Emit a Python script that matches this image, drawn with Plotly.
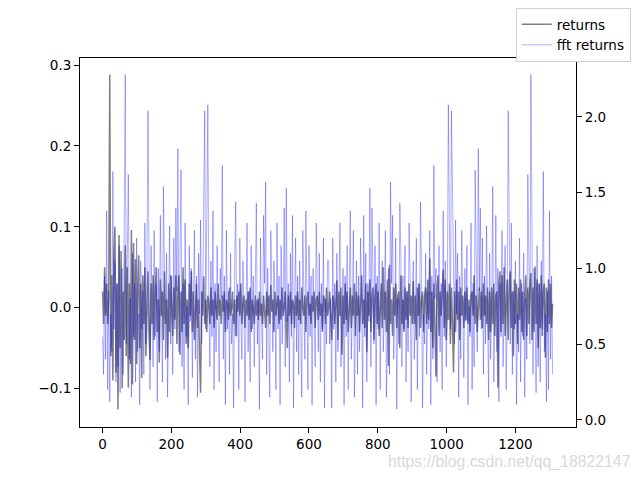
import plotly.graph_objects as go

# daily returns (left axis), one value every 3 samples
returns = [
    0.02, -0.02, 0.05, -0.01, 0.03, -0.02, 0.01,
    0.288,
    -0.06, 0.04, -0.09, 0.06, 0.10, -0.08, 0.03, -0.126, 0.09, -0.05,
    0.07, -0.10, 0.02, -0.04, 0.077, -0.06, 0.05, -0.099, 0.03, -0.07,
    0.096, -0.095, 0.08,
    -0.04, 0.06, -0.07, 0.02, 0.065, -0.05, 0.03, -0.087, 0.04, -0.02,
    0.05, -0.06, 0.01, 0.045, -0.03, -0.065,
    0.03, -0.02, 0.04, -0.04, 0.02, 0.05, -0.03, 0.01, -0.068, 0.035,
    -0.01, 0.02, -0.04, 0.045, -0.02, 0.01, -0.062, 0.03, -0.03, 0.04,
    0.00, -0.035, 0.025, -0.015, 0.04, -0.045, 0.02,
    0.04, -0.058, 0.02, -0.03, 0.05, -0.02, 0.035, -0.045, 0.01, -0.05,
    0.03, -0.01, 0.045, -0.03, 0.02, -0.04, 0.015, 0.03, -0.025, 0.01,
    -0.06,
    -0.105,
    0.02, -0.01, 0.039, -0.02, 0.01, -0.03, 0.015, 0.005, -0.02, 0.025,
    -0.01, 0.01, -0.025, 0.02, 0.00, -0.015, 0.03, -0.01, 0.01, -0.02,
    0.015, -0.005, 0.02, -0.03, 0.01, 0.005, -0.015, 0.025, -0.01, 0.00,
    0.02, -0.02, 0.01, -0.035, 0.015, -0.005, 0.02, -0.01, 0.03, -0.02,
    0.005, 0.015, -0.025, 0.01, -0.01, 0.02, -0.015, 0.025, -0.03, 0.01,
    0.00, -0.02, 0.015, -0.01,
    0.01, -0.015, 0.02, -0.01, 0.005, -0.02, 0.015, 0.00, -0.025, 0.02,
    -0.01, 0.015, -0.02, 0.028, -0.005, 0.01, -0.03, 0.02, -0.01, 0.005,
    0.015, -0.02, 0.01, -0.015, 0.025, -0.01, 0.00, 0.02, -0.03, -0.05,
    0.015, -0.01, 0.02, -0.02, 0.01, 0.005, -0.025, 0.015, -0.01, 0.02,
    -0.015, 0.01, -0.02, 0.025, 0.00, -0.01, 0.015, -0.03, 0.01, 0.02,
    -0.01, 0.005, -0.02, 0.015, -0.005, 0.02, -0.025, 0.01, 0.015, -0.015,
    0.02, -0.01, 0.005, -0.03, 0.015, 0.01, -0.02, 0.025, -0.01, 0.00,
    0.02, -0.025, -0.04, 0.015, 0.01, -0.02,
    0.01, 0.034, -0.04, 0.02, -0.01, 0.025, -0.058, 0.015, -0.02, 0.03,
    -0.015, 0.02, -0.03, 0.01, 0.025, -0.025, 0.015, -0.01, 0.03, -0.035,
    0.02, -0.01, 0.015, -0.03, 0.025, 0.04, -0.02, 0.01, -0.025, 0.03,
    -0.055, 0.02, -0.01, 0.035, -0.03, 0.015, 0.025, -0.04, 0.01, 0.03,
    -0.02, 0.02, -0.035, 0.015, 0.03, -0.025, 0.05, -0.015, 0.02, -0.03,
    0.035, -0.072, 0.053, -0.02, 0.01, -0.035, 0.025, -0.01, 0.03, -0.025,
    0.015, 0.02, -0.05, 0.04, -0.02, 0.01, -0.03, 0.025, -0.015, 0.02,
    -0.025, 0.03, -0.01, 0.015, -0.02,
    0.033, -0.02, 0.015, -0.04, 0.025, -0.01, 0.03, -0.025, 0.01, 0.02,
    -0.03, 0.015, 0.025, -0.02, 0.035, -0.015, 0.061, -0.03, 0.02, -0.05,
    0.03, -0.02, -0.085, 0.025, 0.04, -0.035, 0.02, -0.01, 0.03, 0.047,
    -0.025, 0.035, -0.04, 0.02, -0.015, 0.03, -0.045, 0.025, -0.02, -0.08,
    0.02, -0.03, 0.035, -0.015, 0.02, -0.04, 0.025, -0.01, 0.015, -0.025,
    0.02, -0.015, 0.025, -0.02, 0.01, -0.03, 0.015, 0.02, -0.01, 0.04,
    -0.02, 0.015, -0.03, 0.01, 0.025, -0.015, 0.02, -0.025, 0.03, -0.01,
    0.015, -0.02, 0.025, -0.04, 0.02,
    -0.03, 0.025, -0.02, 0.03, -0.035, 0.015, 0.02, -0.099, 0.03, 0.045,
    -0.03, 0.04, -0.02, 0.05, -0.035, 0.02, 0.035, -0.04, 0.03, 0.045,
    -0.025, 0.02, -0.06, 0.035, -0.02, 0.03, -0.045, 0.025, -0.015, 0.035,
    -0.03, 0.02, -0.04, 0.015, 0.04, -0.035, 0.025, -0.02, 0.03, 0.043,
    -0.04, 0.025, -0.03, 0.051, -0.02, 0.035, -0.05, 0.03, -0.025, 0.04,
    -0.035, 0.02, 0.03, -0.062, 0.025, -0.03, 0.035, -0.02, 0.03, -0.025,
    0.005,
]

# |fft| of the returns (right axis), same sampling
fft_returns = [
    0.55, 0.30, 0.95, 0.40, 1.38, 0.20, 0.85, 0.12, 0.70, 0.45,
    1.64, 0.60, 1.05, 0.25, 0.90, 0.35, 1.15, 0.18, 0.75, 1.00,
    0.30, 1.25, 2.28, 0.50, 0.95, 1.62, 0.40, 0.80, 0.15, 1.10,
    0.55, 0.90, 0.25, 1.20, 0.45, 0.70, 0.10, 1.05, 0.60, 0.85,
    0.30, 1.30, 0.50, 0.95, 2.04, 0.65, 0.20, 1.15, 0.75, 0.35,
    1.25, 0.55, 0.90, 0.12, 1.00, 0.45, 1.35, 0.65, 0.25, 1.54,
    0.80, 0.40, 1.10, 0.15, 0.70, 1.28, 0.50, 0.95, 0.30, 1.20,
    0.60, 1.40, 0.85, 1.79, 0.45, 1.05, 1.65, 0.35, 0.90, 0.20,
    1.30, 0.55, 0.75, 0.10, 1.15, 0.65, 1.00, 0.28, 0.85, 1.25,
    0.40, 0.95, 0.15, 1.10, 0.70, 1.32, 0.50, 0.80, 1.45, 2.04,
    0.60, 1.20, 2.08, 0.75, 0.35, 1.05, 0.55, 1.38, 0.20, 0.90,
    0.45, 1.15, 0.65, 0.25, 1.00, 0.80, 1.68, 0.40, 0.95, 0.10,
    1.25, 0.60, 0.85, 0.30, 1.10, 0.50, 0.70, 0.08, 1.00, 1.44,
    0.55, 0.90, 0.20, 1.20, 0.65, 0.40, 1.05, 0.75, 0.12, 0.95,
    1.30, 0.45, 0.85, 0.25, 1.15, 0.60, 0.95, 0.35, 1.10, 1.43,
    0.50, 0.80, 0.07, 1.20, 0.65, 0.40, 1.35, 0.90, 1.57, 0.30,
    1.00, 0.55, 0.15, 1.25, 0.70, 0.45, 1.05, 0.85, 0.20, 1.30,
    0.60, 0.95, 0.10, 1.15, 0.50, 0.75, 1.40, 0.35, 1.53, 0.65,
    0.90, 0.25, 1.10, 0.55, 1.35, 0.08, 0.80, 1.20, 0.45, 0.95,
    0.30, 1.05, 0.60, 0.15, 1.25, 0.70, 0.40, 1.38, 0.85, 0.20,
    1.15, 0.55, 0.95, 0.10, 1.00, 0.65, 0.35, 1.30, 0.75, 0.45,
    1.10, 0.25, 0.90, 0.60, 1.20, 0.08, 0.80, 0.50, 1.05,
    1.05, 0.50, 0.80, 0.08, 1.20, 0.60, 0.90, 0.25, 1.10, 0.45,
    0.75, 1.30, 0.35, 0.65, 1.00, 0.10, 0.95, 0.55, 1.15, 0.20,
    0.85, 1.38, 0.40, 0.70, 1.25, 0.15, 0.60, 1.05, 0.30, 0.95,
    0.45, 1.20, 0.80, 0.08, 1.35, 0.55, 1.10, 0.25, 0.90, 0.65,
    1.53, 0.35, 1.40, 0.75, 0.50, 1.15, 0.10, 0.95, 0.60, 1.30,
    0.20, 0.85, 1.05, 0.45, 0.70, 1.25, 0.15, 0.55, 1.00, 0.30,
    1.57, 0.90, 1.35, 0.40, 0.65, 1.20, 0.07, 0.80, 0.50, 1.43,
    1.10, 0.35, 0.95, 0.60, 1.15, 0.25, 0.85, 0.45, 1.30, 0.95,
    0.12, 0.75, 1.05, 0.40, 0.65, 1.20, 0.20, 0.90, 0.55, 1.44,
    1.00, 0.08, 0.70, 0.50, 1.10, 0.30, 0.85, 0.60, 1.25, 0.10,
    0.95, 0.40, 1.68, 0.80, 1.00, 0.25, 0.65, 1.15, 0.45, 0.90,
    0.20, 1.38, 0.55, 1.05, 0.35, 0.75, 2.08, 1.20, 0.60, 2.04,
    1.45, 0.80, 0.50, 1.32, 0.70, 1.10, 0.15, 0.95, 0.40, 1.25,
    0.85, 0.28, 1.00, 0.65, 1.15, 0.10, 0.75, 0.55, 1.30, 0.20,
    0.90, 0.35, 1.65, 1.05, 0.45, 1.79, 0.85, 1.40, 0.60, 1.20,
    0.30, 0.95, 0.50, 1.28, 0.70, 0.15, 1.10, 0.40, 0.80, 1.54,
    0.25, 0.65, 1.35, 0.45, 1.00, 0.12, 0.90, 0.55, 1.25, 0.35,
    0.75, 1.15, 0.20, 0.65, 2.04, 0.95, 0.50, 1.30, 0.30, 0.85,
    0.60, 1.05, 0.10, 0.70, 0.45, 1.20, 0.25, 0.90, 0.55, 1.10,
    0.15, 0.80, 0.40, 1.62, 0.95, 0.50, 2.28, 1.25, 0.30, 1.00,
    0.75, 0.18, 1.15, 0.35, 0.90, 0.25, 1.05, 0.60, 1.64, 0.45,
    0.70, 0.12, 0.85, 0.20, 1.38, 0.40, 0.95, 0.30,
]

step = 3
x_returns = [step * k for k in range(len(returns))]
x_fft = [step * k for k in range(len(fft_returns))]

fig = go.Figure()
fig.add_trace(go.Scatter(
    x=x_returns, y=returns, mode="lines", name="returns",
    line={"color": "rgba(0,0,0,0.5)", "width": 1.5},
))
fig.add_trace(go.Scatter(
    x=x_fft, y=fft_returns, mode="lines", name="fft returns", yaxis="y2",
    line={"color": "rgba(0,0,255,0.4)", "width": 0.8},
))

axis_style = dict(
    showgrid=False, zeroline=False, showline=True, linecolor="black",
    linewidth=1, ticks="outside", ticklen=5, tickwidth=1, tickcolor="black",
)
# the page body has an 8px margin, so the figure is sized to fit inside it
fig.update_layout(
    width=624, height=464,
    margin={"l": 72, "r": 56, "t": 50, "b": 45, "autoexpand": False},
    paper_bgcolor="white", plot_bgcolor="white",
    font={"family": "DejaVu Sans", "size": 13.5, "color": "black"},
    xaxis=dict(axis_style, range=[-65.5, 1376], mirror=True,
               tickvals=[0, 200, 400, 600, 800, 1000, 1200]),
    yaxis=dict(axis_style, range=[-0.1475, 0.3088], mirror=True,
               tickvals=[-0.1, 0.0, 0.1, 0.2, 0.3], tickformat=".1f"),
    yaxis2=dict(axis_style, range=[-0.047, 2.389], overlaying="y", side="right",
                tickvals=[0.0, 0.5, 1.0, 1.5, 2.0], tickformat=".1f"),
    legend=dict(
        xref="container", yref="container", x=0.998, y=1.0,
        xanchor="right", yanchor="top",
        bgcolor="white", bordercolor="#d0d0d0", borderwidth=1,
        font={"size": 13.5}, itemwidth=30,
    ),
    annotations=[dict(
        text="https://blog.csdn.net/qq_18822147", xref="paper", yref="paper",
        x=1.113, y=-0.094, xanchor="right", yanchor="middle", showarrow=False,
        font={"family": "Liberation Sans", "size": 15.8, "color": "#d9d9d9"},
    )],
)

fig.write_html("out.html")
